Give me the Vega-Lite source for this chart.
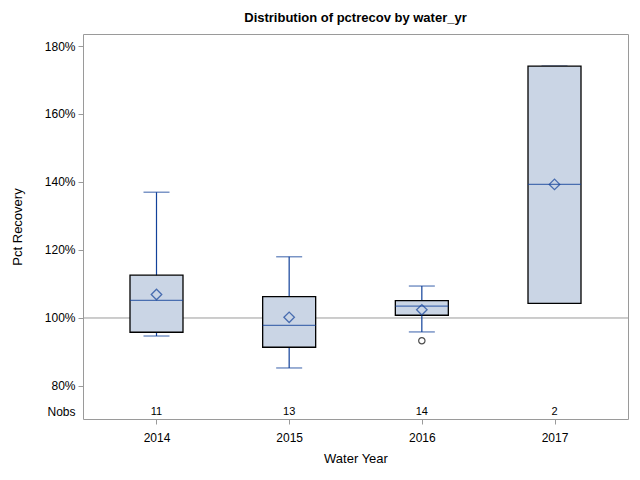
{
  "$schema": "https://vega.github.io/schema/vega-lite/v6.json",
  "autosize": {"type": "none"},
  "width": 545,
  "height": 385,
  "padding": {"left": 83, "top": 34, "right": 12, "bottom": 61},
  "background": "white",
  "config": {
    "font": "Liberation Sans",
    "view": {"stroke": "#9a9a9a", "strokeWidth": 1},
    "axis": {"labelFont": "Liberation Sans", "titleFont": "Liberation Sans", "labelColor": "#000", "titleColor": "#000", "titleFontWeight": "normal", "grid": false, "domainColor": "#9a9a9a", "tickColor": "#9a9a9a"}
  },
  "title": {"text": "Distribution of pctrecov by water_yr", "fontSize": 13, "fontWeight": "bold", "font": "Liberation Sans", "anchor": "middle", "offset": 9, "color": "#000"},
  "datasets": {
    "stats": [
      {"year": "2014", "lo": 0.947, "q1": 0.958, "median": 1.052, "mean": 1.069, "q3": 1.126, "hi": 1.370, "nobs": 11},
      {"year": "2015", "lo": 0.853, "q1": 0.914, "median": 0.978, "mean": 1.002, "q3": 1.063, "hi": 1.180, "nobs": 13},
      {"year": "2016", "lo": 0.959, "q1": 1.008, "median": 1.035, "mean": 1.024, "q3": 1.051, "hi": 1.094, "nobs": 14},
      {"year": "2017", "lo": 1.043, "q1": 1.043, "median": 1.393, "mean": 1.393, "q3": 1.741, "hi": 1.741, "nobs": 2}
    ],
    "outliers": [
      {"year": "2016", "value": 0.933}
    ],
    "ref": [{"value": 1.0}]
  },
  "encoding": {
    "x": {
      "field": "year", "type": "ordinal",
      "scale": {"type": "point", "padding": 0.554, "domain": ["2014", "2015", "2016", "2017"]},
      "axis": {"title": "Water Year", "labelAngle": 0, "labelFontSize": 12, "titleFontSize": 13, "tickSize": 5, "labelPadding": 8, "titlePadding": 9, "domain": false}
    }
  },
  "layer": [
    {
      "data": {"name": "ref"},
      "mark": {"type": "rule", "color": "#9a9a9a", "strokeWidth": 1},
      "encoding": {
        "x": null,
        "y": {"field": "value", "type": "quantitative",
          "scale": {"domain": [0.7029, 1.8353], "nice": false, "zero": false},
          "axis": {
            "title": "Pct Recovery", "titleFontSize": 13, "labelFontSize": 12, "tickSize": 5, "labelPadding": 3, "titlePadding": 20, "domain": false,
            "values": [0.7235, 0.8, 1.0, 1.2, 1.4, 1.6, 1.8],
            "labelExpr": "datum.value < 0.75 ? 'Nobs' : format(datum.value, '.0%')",
            "tickOpacity": {"condition": {"test": "datum.value < 0.75", "value": 0}, "value": 1}
          }
        }
      }
    },
    {
      "data": {"name": "stats"},
      "mark": {"type": "rule", "color": "#12419A", "strokeWidth": 1.2},
      "encoding": {"y": {"field": "lo", "type": "quantitative"}, "y2": {"field": "hi"}}
    },
    {
      "data": {"name": "stats"},
      "mark": {"type": "tick", "color": "#12419A", "size": 26, "thickness": 1.2, "orient": "horizontal"},
      "encoding": {"y": {"field": "lo", "type": "quantitative"}}
    },
    {
      "data": {"name": "stats"},
      "mark": {"type": "tick", "color": "#12419A", "size": 26, "thickness": 1.2, "orient": "horizontal"},
      "encoding": {"y": {"field": "hi", "type": "quantitative"}}
    },
    {
      "data": {"name": "stats"},
      "mark": {"type": "bar", "fill": "#CAD5E5", "stroke": "#000", "strokeWidth": 1.3, "size": 53},
      "encoding": {"y": {"field": "q1", "type": "quantitative"}, "y2": {"field": "q3"}}
    },
    {
      "data": {"name": "stats"},
      "mark": {"type": "tick", "color": "#12419A", "size": 53, "thickness": 1.2, "orient": "horizontal"},
      "encoding": {"y": {"field": "median", "type": "quantitative"}}
    },
    {
      "data": {"name": "stats"},
      "mark": {"type": "point", "shape": "diamond", "filled": false, "stroke": "#12419A", "strokeWidth": 1.3, "size": 110},
      "encoding": {"y": {"field": "mean", "type": "quantitative"}}
    },
    {
      "data": {"name": "outliers"},
      "mark": {"type": "point", "shape": "circle", "filled": false, "stroke": "#000", "strokeWidth": 1.2, "size": 40},
      "encoding": {"y": {"field": "value", "type": "quantitative"}}
    },
    {
      "data": {"name": "stats"},
      "mark": {"type": "text", "fontSize": 11, "color": "#000", "baseline": "middle"},
      "encoding": {"y": {"datum": 0.7235, "type": "quantitative"}, "text": {"field": "nobs", "type": "quantitative"}}
    }
  ]
}
